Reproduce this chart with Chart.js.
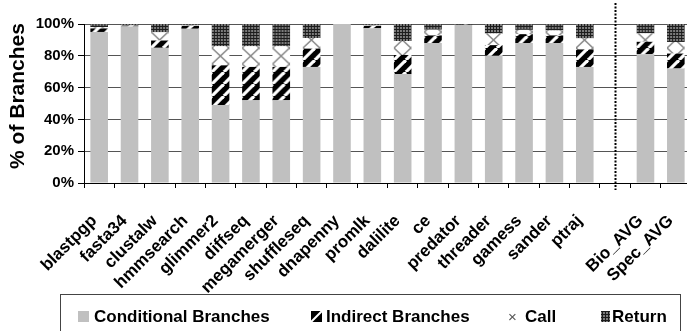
<!DOCTYPE html>
<html>
<head>
<meta charset="utf-8">
<script src="https://cdn.jsdelivr.net/npm/chart.js@4/dist/chart.umd.min.js"></script>
<style>
  html, body { margin: 0; padding: 0; background: #fff; overflow: hidden; }
  #wrap { width: 687px; height: 331px; overflow: hidden; position: relative; }
  canvas { display: block; }
</style>
</head>
<body>
<div id="wrap"><canvas id="chart" width="695" height="331"></canvas></div>
<script>
// Benchmarks (an empty slot separates the two averages)
const categories = ['blastpgp', 'fasta34', 'clustalw', 'hmmsearch', 'glimmer2', 'diffseq',
  'megamerger', 'shuffleseq', 'dnapenny', 'promlk', 'dalilite', 'ce', 'predator',
  'threader', 'gamess', 'sander', 'ptraj', '', 'Bio_AVG', 'Spec_AVG'];

// Share of dynamic branches, in percent
const conditional = [95, 98.5, 85, 97, 49, 52, 52, 73, 100, 97.3, 68.5, 88, 99.3, 80, 88, 88, 73, null, 81, 72];
const indirect    = [2.2, 0.5, 4.6, 1.8, 25, 21, 21, 11.5, 0, 1.5, 12, 4.8, 0.3, 6.7, 5.6, 4.8, 11, null, 7.8, 9.4];
const calls       = [0.8, 0.2, 5.2, 0.3, 12, 13, 13, 6.7, 0, 0.3, 8.8, 3.6, 0.1, 7.3, 2.7, 3.1, 7, null, 5.3, 7.3];
const returns     = [2, 0.8, 5.2, 0.9, 14, 14, 14, 8.8, 0, 0.9, 10.7, 3.6, 0.3, 6, 3.7, 4.1, 9, null, 5.9, 11.3];

const seriesNames = ['Conditional Branches', 'Indirect Branches', 'Call', 'Return'];
const yTicks = [0, 20, 40, 60, 80, 100];
const separatorIndex = 17;

const FONT = '"Liberation Sans", Arial, sans-serif';

// ---- fill tiles ----
function makeTile(w, h, paint) {
  const c = document.createElement('canvas');
  c.width = w; c.height = h;
  paint(c.getContext('2d'), w, h);
  return c;
}
const stripeTile = makeTile(12, 12, (g, w, h) => {
  g.fillStyle = '#000'; g.fillRect(0, 0, w, h);
  g.strokeStyle = '#fff'; g.lineWidth = 3.2;
  for (const o of [-w, 0, w]) {
    g.beginPath(); g.moveTo(o, h); g.lineTo(o + w, 0); g.stroke();
  }
});
const crossTile = makeTile(17, 16, (g, w, h) => {
  g.fillStyle = '#fff'; g.fillRect(0, 0, w, h);
  g.strokeStyle = '#8c8c8c'; g.lineWidth = 1.6;
  g.beginPath(); g.moveTo(0, 0); g.lineTo(w, h); g.stroke();
  g.beginPath(); g.moveTo(w, 0); g.lineTo(0, h); g.stroke();
});
const dotTile = makeTile(3, 3, (g) => {
  g.fillStyle = '#1c1c1c'; g.fillRect(0, 0, 3, 3);
  g.fillStyle = '#7c7c7c'; g.fillRect(0, 0, 2, 2);
});

const scratch = document.createElement('canvas').getContext('2d');
function barPattern(tile) {
  return (ctx) => {
    const pat = scratch.createPattern(tile, 'repeat');
    const xs = ctx.chart.scales && ctx.chart.scales.x;
    if (xs && ctx.dataIndex !== undefined && pat.setTransform) {
      const left = xs.getPixelForValue(ctx.dataIndex) - 8.75;
      pat.setTransform(new DOMMatrix().translate(left, 0));
    }
    return pat;
  };
}

// ---- decorations: axis title, separator and framed legend ----
const decorations = {
  id: 'decorations',
  afterDatasetsDraw(chart) {
    const { ctx, scales: { x }, chartArea } = chart;
    const sx = Math.round(x.getPixelForValue(separatorIndex)) + 0.5;
    ctx.save();
    ctx.strokeStyle = '#000';
    ctx.lineWidth = 2;
    ctx.setLineDash([2, 1.5]);
    ctx.beginPath();
    ctx.moveTo(sx, 3);
    ctx.lineTo(sx, chartArea.bottom + 7);
    ctx.stroke();
    ctx.restore();
  },
  afterDraw(chart) {
    const ctx = chart.ctx;
    ctx.save();
    // y axis title
    ctx.translate(18, 96);
    ctx.rotate(-Math.PI / 2);
    ctx.font = 'bold 21px ' + FONT;
    ctx.fillStyle = '#000';
    ctx.textAlign = 'center';
    ctx.textBaseline = 'middle';
    ctx.fillText('% of Branches', 0, 0);
    ctx.restore();

    // legend frame
    ctx.save();
    ctx.strokeStyle = '#444';
    ctx.lineWidth = 1;
    ctx.strokeRect(60.5, 294.5, 620, 60);

    const swatchY = 311;
    // conditional
    ctx.fillStyle = '#c0c0c0';
    ctx.fillRect(78, swatchY, 11, 11);
    // indirect
    ctx.fillStyle = '#000';
    ctx.fillRect(311, swatchY, 11, 11);
    ctx.strokeStyle = '#fff';
    ctx.lineWidth = 2;
    ctx.beginPath(); ctx.moveTo(311, swatchY + 11); ctx.lineTo(322, swatchY); ctx.stroke();
    // call
    ctx.font = '15px ' + FONT;
    ctx.fillStyle = '#555';
    ctx.textBaseline = 'alphabetic';
    ctx.fillText('\u00d7', 508, 322);
    // return
    const p = ctx.createPattern(dotTile, 'repeat');
    ctx.fillStyle = p;
    ctx.fillRect(601, swatchY, 9, 11);

    ctx.font = 'bold 17px ' + FONT;
    ctx.fillStyle = '#000';
    const textX = [94, 326, 525, 612];
    seriesNames.forEach((name, i) => ctx.fillText(name, textX[i], 322));
    ctx.restore();
  }
};

new Chart(document.getElementById('chart'), {
  type: 'bar',
  data: {
    labels: categories,
    datasets: [
      { label: seriesNames[0], data: conditional, backgroundColor: '#c0c0c0' },
      { label: seriesNames[1], data: indirect, backgroundColor: barPattern(stripeTile) },
      { label: seriesNames[2], data: calls, backgroundColor: barPattern(crossTile) },
      { label: seriesNames[3], data: returns, backgroundColor: barPattern(dotTile) }
    ]
  },
  options: {
    responsive: false,
    animation: false,
    devicePixelRatio: 1,
    layout: { padding: { top: 24, right: 4, bottom: 0, left: 0 } },
    datasets: { bar: { barPercentage: 0.58, categoryPercentage: 1, borderWidth: 0 } },
    plugins: { legend: { display: false }, tooltip: { enabled: false } },
    scales: {
      x: {
        stacked: true,
        afterFit(scale) {
          scale.height = 148;
          scale.paddingLeft = 0;
          scale.paddingRight = 0;
        },
        grid: { display: true, drawOnChartArea: false, offset: true, tickLength: 5, color: '#000' },
        border: { color: '#000', width: 1 },
        ticks: {
          autoSkip: false, maxRotation: 45, minRotation: 45, padding: 23, labelOffset: -5,
          color: '#000', font: { family: FONT, size: 17, weight: 'bold' }
        }
      },
      y: {
        stacked: true,
        min: 0, max: 100,
        afterFit(scale) { scale.width = 84; },
        afterBuildTicks(scale) { scale.ticks = yTicks.map(v => ({ value: v })); },
        grid: { color: '#555', lineWidth: 1, tickLength: 6, tickColor: '#000' },
        border: { color: '#000', width: 1 },
        ticks: {
          padding: 4, color: '#000',
          font: { family: FONT, size: 15, weight: 'bold' },
          callback: v => v + '%'
        }
      }
    }
  },
  plugins: [decorations]
});
</script>
</body>
</html>
